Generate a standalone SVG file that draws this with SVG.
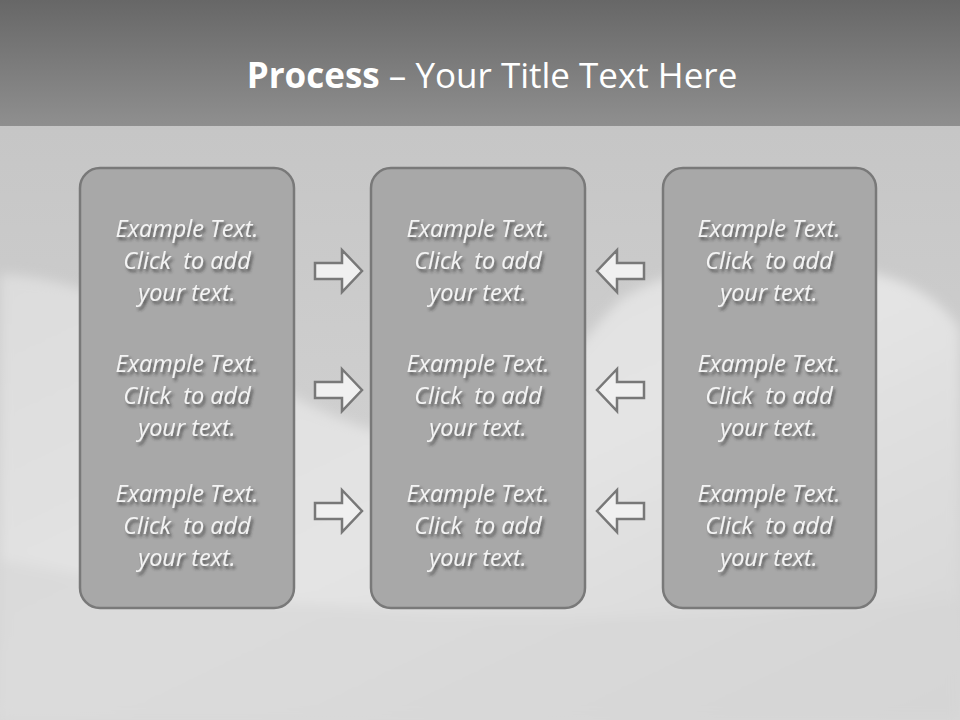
<svg xmlns="http://www.w3.org/2000/svg" width="960" height="720" viewBox="0 0 960 720">
<defs>
<linearGradient id="top" x1="0" y1="0" x2="0" y2="1">
<stop offset="0" stop-color="#676767"/><stop offset="1" stop-color="#8f8f8f"/>
</linearGradient>
<linearGradient id="body" x1="0" y1="0" x2="0" y2="1">
<stop offset="0" stop-color="#a9a9a9"/><stop offset="0.09" stop-color="#c4c4c4"/><stop offset="0.5" stop-color="#cdcdcd"/><stop offset="1" stop-color="#d8d8d8"/>
</linearGradient>
<linearGradient id="hill" x1="0" y1="0" x2="1" y2="1">
<stop offset="0" stop-color="#dcdcdc"/><stop offset="0.5" stop-color="#e4e4e4"/><stop offset="1" stop-color="#d4d4d4"/>
</linearGradient>
<filter id="sh" x="-20%" y="-30%" width="140%" height="170%">
<feDropShadow dx="2" dy="3" stdDeviation="1.6" flood-color="#333" flood-opacity="0.75"/>
</filter>
<filter id="blur"><feGaussianBlur stdDeviation="6"/></filter>
<path id="ar" d="M0,-8 H27 V-21 L47,0 L27,21 V8 H0 Z"/>
<path id="al" d="M0,-8 H-27 V-21 L-47,0 L-27,21 V8 H0 Z"/>
</defs>
<style>
.box{fill:#a8a8a8;stroke:#797979;stroke-width:2.5}
.t{font-family:"Open Sans","Liberation Sans",sans-serif;font-style:italic;font-size:23.5px;fill:#f4f4f4;text-anchor:middle;filter:url(#sh);white-space:pre}
.arr{fill:#f0f0f0;stroke:#787878;stroke-width:2.5;stroke-linejoin:miter}
.title{font-family:"Open Sans","Liberation Sans",sans-serif;font-size:35px;fill:#ffffff;text-anchor:middle}
</style>
<rect x="0" y="0" width="960" height="720" fill="url(#body)"/>
<rect x="0" y="0" width="960" height="126" fill="url(#top)"/>
<g filter="url(#blur)">
<path d="M0,274 C60,276 120,300 200,340 C280,390 340,430 420,440 C520,450 560,360 620,300 C680,260 780,250 880,275 C920,285 950,310 960,330 V720 H0 Z" fill="url(#hill)"/>
<path d="M0,560 C200,600 500,640 960,600 V720 H0 Z" fill="#d6d6d6" opacity="0.6"/>
</g>
<g id="title"><text class="title" x="492" y="88"><tspan font-weight="bold">Process</tspan> – Your Title Text Here</text></g>
<g id="box-left">
<rect class="box" x="80" y="168" width="214" height="440" rx="20"/>
<text class="t" x="187" y="237">Example Text.</text><text class="t" x="187" y="269" xml:space="preserve">Click  to add</text><text class="t" x="187" y="301">your text.</text>
<text class="t" x="187" y="372">Example Text.</text><text class="t" x="187" y="404" xml:space="preserve">Click  to add</text><text class="t" x="187" y="436">your text.</text>
<text class="t" x="187" y="502">Example Text.</text><text class="t" x="187" y="534" xml:space="preserve">Click  to add</text><text class="t" x="187" y="566">your text.</text>
</g>
<g id="box-middle">
<rect class="box" x="371" y="168" width="214" height="440" rx="20"/>
<text class="t" x="478" y="237">Example Text.</text><text class="t" x="478" y="269" xml:space="preserve">Click  to add</text><text class="t" x="478" y="301">your text.</text>
<text class="t" x="478" y="372">Example Text.</text><text class="t" x="478" y="404" xml:space="preserve">Click  to add</text><text class="t" x="478" y="436">your text.</text>
<text class="t" x="478" y="502">Example Text.</text><text class="t" x="478" y="534" xml:space="preserve">Click  to add</text><text class="t" x="478" y="566">your text.</text>
</g>
<g id="box-right">
<rect class="box" x="663" y="168" width="213" height="440" rx="20"/>
<text class="t" x="769" y="237">Example Text.</text><text class="t" x="769" y="269" xml:space="preserve">Click  to add</text><text class="t" x="769" y="301">your text.</text>
<text class="t" x="769" y="372">Example Text.</text><text class="t" x="769" y="404" xml:space="preserve">Click  to add</text><text class="t" x="769" y="436">your text.</text>
<text class="t" x="769" y="502">Example Text.</text><text class="t" x="769" y="534" xml:space="preserve">Click  to add</text><text class="t" x="769" y="566">your text.</text>
</g>
<g id="connectors">
<use href="#ar" class="arr" x="315" y="271"/>
<use href="#ar" class="arr" x="315" y="390"/>
<use href="#ar" class="arr" x="315" y="511"/>
<use href="#al" class="arr" x="644" y="271"/>
<use href="#al" class="arr" x="644" y="390"/>
<use href="#al" class="arr" x="644" y="511"/>
</g>
</svg>
